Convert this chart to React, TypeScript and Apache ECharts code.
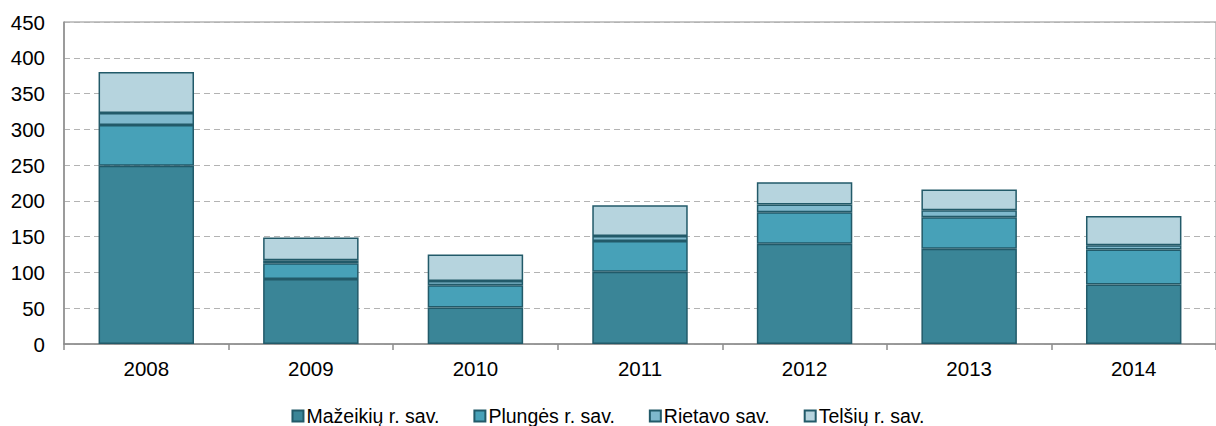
import React, { useEffect, useRef } from "react";
import * as echarts from "echarts";

const categories = ["2008", "2009", "2010", "2011", "2012", "2013", "2014"];
const seriesNames = ["Mažeikių r. sav.", "Plungės r. sav.", "Rietavo sav.", "Telšių r. sav."];
const mazeikiai = [249, 91, 51, 101, 140, 133, 83];
const plunge = [57, 22, 31, 43, 44, 44, 49];
const rietavas = [17, 4, 6, 7, 11, 10, 6];
const telsiai = [57, 32, 37, 43, 31, 29, 41];
const seriesValues = [mazeikiai, plunge, rietavas, telsiai];
const colors = ["#3A8597", "#47A1B8", "#7FB9CD", "#B6D4DE"];

export default function App() {
  const ref = useRef<HTMLDivElement>(null);
  useEffect(() => {
    if (!ref.current) return;
    const chart = echarts.init(ref.current, null, { renderer: "svg" });
    const font = "Arial, 'Liberation Sans', sans-serif";
    chart.setOption({
      animation: false,
      textStyle: { fontFamily: font },
      grid: {
        left: 64,
        top: 22,
        width: 1166,
        height: 322,
        show: true,
        borderColor: "#8c8c8c",
        borderWidth: 1,
        containLabel: false,
      },
      legend: {
        top: 401,
        left: "center",
        itemWidth: 11,
        itemHeight: 11,
        itemGap: 34,
        icon: "rect",
        textStyle: { fontFamily: font, fontSize: 19.5, color: "#000", padding: [0, 0, 0, -2] },
        data: seriesNames,
      },
      xAxis: {
        type: "category",
        data: categories,
        axisLine: { lineStyle: { color: "#8c8c8c", width: 1.5 } },
        axisTick: { show: true, length: 6, lineStyle: { color: "#8c8c8c", width: 1.5 } },
        axisLabel: { color: "#000", fontSize: 20.5, margin: 14, fontFamily: font },
      },
      yAxis: {
        type: "value",
        min: 0,
        max: 450,
        interval: 50,
        axisLine: { show: true, lineStyle: { color: "#8c8c8c", width: 1.5 } },
        axisTick: { show: false },
        axisLabel: { color: "#000", fontSize: 20.5, margin: 19, fontFamily: font },
        splitLine: { show: true, lineStyle: { color: "#b3b3b3", type: [6, 4], width: 1 } },
      },
      series: seriesNames.map((name, i) => ({
        name,
        type: "bar",
        stack: "total",
        barWidth: "58%",
        data: seriesValues[i],
        itemStyle: { color: colors[i], borderColor: "#225A69", borderWidth: 1.5 },
      })),
    });
    return () => chart.dispose();
  }, []);
  return (
    <div
      ref={ref}
      style={{ position: "absolute", left: 0, top: 0, width: 1216, height: 426, background: "#fff" }}
    />
  );
}
